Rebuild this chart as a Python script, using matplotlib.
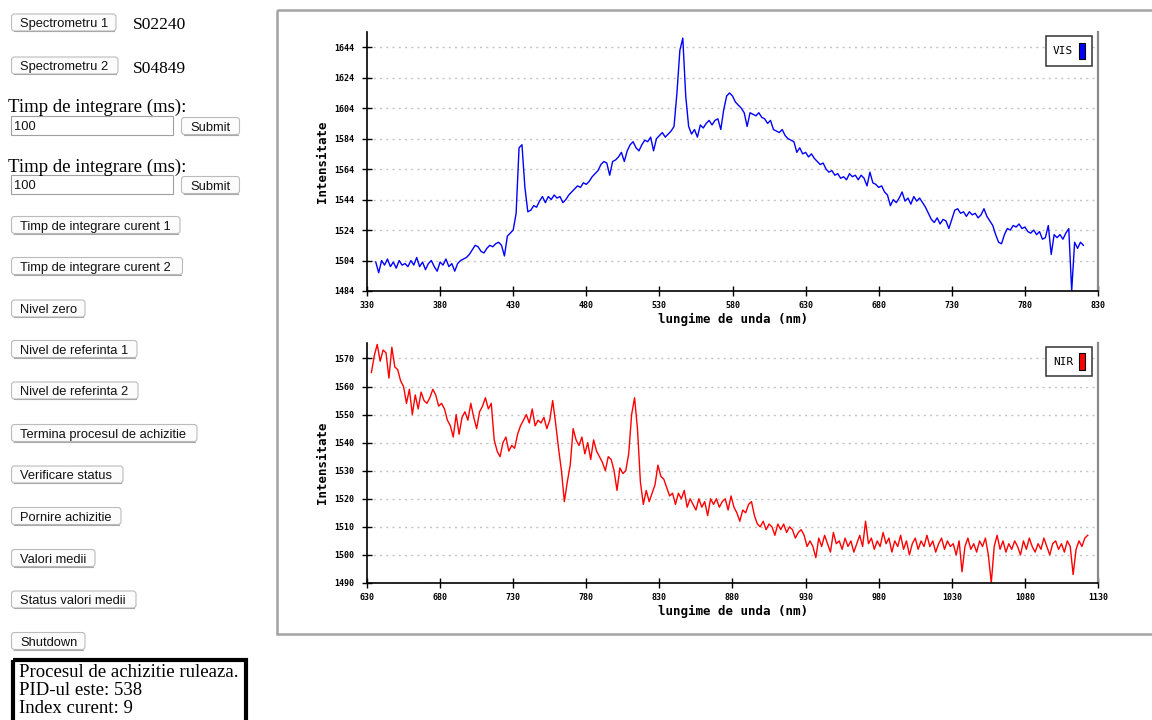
import numpy as np
import matplotlib
matplotlib.use("Agg")
import matplotlib.pyplot as plt
from matplotlib.patches import FancyBboxPatch, Rectangle, Patch

MONO  = "DejaVu Sans Mono"
SANS  = "Liberation Sans"
SERIF = "Liberation Serif"

# ---- spectra (one value every 2 nm) ----
vis_start = 336
vis_int = [
    1503, 1496, 1504, 1501, 1505, 1500, 1503, 1499, 1504, 1501,
    1502, 1500, 1504, 1501, 1506, 1500, 1503, 1498, 1502, 1504,
    1500, 1497, 1503, 1501, 1505, 1500, 1502, 1497, 1502, 1504,
    1505, 1506, 1508, 1511, 1514, 1513, 1510, 1509, 1512, 1514,
    1513, 1515, 1516, 1514, 1507, 1520, 1522, 1524, 1535, 1578,
    1580, 1552, 1536, 1537, 1540, 1539, 1543, 1546, 1542, 1546,
    1544, 1547, 1545, 1546, 1542, 1544, 1547, 1549, 1551, 1553,
    1552, 1555, 1554, 1556, 1559, 1561, 1563, 1567, 1569, 1568,
    1560, 1569, 1570, 1572, 1575, 1569, 1576, 1580, 1582, 1578,
    1576, 1580, 1583, 1582, 1585, 1576, 1584, 1586, 1588, 1585,
    1587, 1589, 1592, 1614, 1642, 1650, 1612, 1592, 1587, 1590,
    1585, 1593, 1591, 1594, 1596, 1593, 1596, 1597, 1590, 1603,
    1612, 1614, 1612, 1608, 1606, 1604, 1601, 1592, 1601, 1600,
    1599, 1601, 1598, 1597, 1594, 1596, 1590, 1589, 1588, 1590,
    1586, 1584, 1583, 1582, 1575, 1578, 1574, 1575, 1572, 1574,
    1571, 1569, 1567, 1568, 1564, 1562, 1563, 1560, 1561, 1558,
    1559, 1557, 1561, 1559, 1560, 1557, 1560, 1558, 1553, 1562,
    1555, 1554, 1552, 1553, 1549, 1547, 1540, 1544, 1542, 1545,
    1549, 1543, 1545, 1541, 1546, 1543, 1545, 1542, 1539, 1535,
    1531, 1529, 1532, 1528, 1531, 1530, 1525, 1531, 1537, 1538,
    1535, 1536, 1533, 1536, 1534, 1535, 1532, 1534, 1538, 1533,
    1530, 1527, 1521, 1516, 1515, 1521, 1525, 1524, 1527, 1526,
    1528, 1525, 1526, 1523, 1522, 1524, 1521, 1523, 1518, 1519,
    1527, 1508, 1521, 1519, 1521, 1518, 1522, 1525, 1484, 1516,
    1512, 1516, 1514,
]

nir_start = 633
nir_int = [
    1565, 1571, 1575, 1569, 1573, 1572, 1563, 1574, 1567, 1566,
    1562, 1560, 1554, 1559, 1550, 1557, 1552, 1558, 1555, 1554,
    1556, 1559, 1557, 1553, 1554, 1552, 1548, 1546, 1542, 1550,
    1543, 1549, 1551, 1548, 1554, 1549, 1545, 1551, 1553, 1556,
    1552, 1554, 1541, 1537, 1535, 1540, 1542, 1537, 1539, 1538,
    1543, 1546, 1548, 1550, 1547, 1552, 1546, 1548, 1547, 1549,
    1545, 1548, 1555, 1547, 1538, 1530, 1519, 1526, 1532, 1545,
    1541, 1539, 1542, 1536, 1540, 1534, 1541, 1537, 1535, 1533,
    1530, 1535, 1534, 1530, 1523, 1531, 1529, 1530, 1536, 1550,
    1556, 1545, 1526, 1518, 1523, 1519, 1522, 1525, 1532, 1528,
    1527, 1524, 1521, 1522, 1518, 1522, 1520, 1523, 1517, 1520,
    1518, 1516, 1520, 1517, 1519, 1514, 1520, 1518, 1520, 1517,
    1519, 1520, 1516, 1521, 1517, 1515, 1512, 1516, 1515, 1518,
    1519, 1514, 1511, 1510, 1512, 1509, 1511, 1510, 1507, 1511,
    1509, 1511, 1508, 1510, 1509, 1506, 1508, 1509, 1507, 1503,
    1505, 1503, 1499, 1506, 1503, 1507, 1504, 1501, 1508, 1504,
    1505, 1502, 1506, 1503, 1505, 1501, 1504, 1507, 1503, 1512,
    1504, 1506, 1502, 1505, 1503, 1508, 1504, 1506, 1501, 1505,
    1503, 1507, 1502, 1505, 1500, 1504, 1506, 1502, 1505, 1503,
    1507, 1503, 1505, 1501, 1504, 1506, 1502, 1505, 1503, 1504,
    1500, 1505, 1494, 1503, 1506, 1502, 1504, 1501, 1505, 1503,
    1506, 1500, 1490, 1503, 1507, 1502, 1505, 1501, 1504, 1502,
    1505, 1503, 1500, 1505, 1502, 1506, 1503, 1501, 1504, 1502,
    1506, 1503, 1500, 1504, 1505, 1502, 1504, 1501, 1505, 1503,
    1493, 1502, 1505, 1503, 1506, 1507,
]

vis_xticks = [330, 380, 430, 480, 530, 580, 630, 680, 730, 780, 830]
vis_yticks = [1484, 1504, 1524, 1544, 1564, 1584, 1604, 1624, 1644]
vis_ylim   = (1484, 1654)
nir_xticks = [630, 680, 730, 780, 830, 880, 930, 980, 1030, 1080, 1130]
nir_yticks = [1490, 1500, 1510, 1520, 1530, 1540, 1550, 1560, 1570]
nir_ylim   = (1490, 1575.5)

# ---- page content ----
serials      = ["S02240", "S04849"]
int_label    = "Timp de integrare (ms):"
int_value    = "100"
buttons      = ["Timp de integrare curent 1", "Timp de integrare curent 2",
                "Nivel zero", "Nivel de referinta 1", "Nivel de referinta 2",
                "Termina procesul de achizitie", "Verificare status",
                "Pornire achizitie", "Valori medii", "Status valori medii",
                "Shutdown"]
status_lines = ["Procesul de achizitie ruleaza.", "PID-ul este: 538",
                "Index curent: 9"]

# layout of the page (pixels)
BTN_TOPS   = [216.5, 257.5, 300, 340.5, 382, 424.5, 466, 507.5, 549.5, 591, 632.5]
BTN_RIGHTS = [180, 182.5, 85, 137, 138, 197, 123, 121, 95, 136, 85]
BTN_H = 17
BTN_FS = 9.3
SERIF_FS = 13.5


def button(ui, x0, y0, x1, text, centre=False):
    ui.add_patch(FancyBboxPatch((x0, y0), x1 - x0, BTN_H,
                                boxstyle="round,pad=0,rounding_size=3",
                                fc="#fcfcfc", ec="#bbbbbb", lw=0.8))
    ui.plot([x0 + 2, x1 - 2], [y0 + BTN_H, y0 + BTN_H], color="#a8a8a8", lw=0.8)
    ty = y0 + BTN_H / 2 + 1.8
    if centre:
        ui.text((x0 + x1) / 2, ty, text, family=SANS, fontsize=BTN_FS,
                ha="center", va="center", color="#111111")
    else:
        ui.text(x0 + 8.5, ty, text, family=SANS, fontsize=BTN_FS,
                ha="left", va="center", color="#111111")


def input_box(ui, y0):
    ui.add_patch(Rectangle((10.5, y0), 162, 19, fc="white", ec="#a0a0a0", lw=0.8))
    ui.text(14, y0 + 11.5, int_value, family=SANS, fontsize=BTN_FS, ha="left",
            va="center", color="#111111")


def draw_spectrum(ax, start, vals, colour, name, xticks, yticks, ylim, label_y):
    nm = start + 2 * np.arange(len(vals))
    ax.plot(nm, vals, color=colour, lw=1.0)
    ax.set_xlim(xticks[0], xticks[-1])
    ax.set_ylim(*ylim)
    ax.set_xticks(xticks)
    ax.set_yticks(yticks)
    ax.tick_params(axis="both", direction="inout", length=7, width=1,
                   labelsize=6, colors="black")
    ax.tick_params(axis="y", pad=5.5)
    ax.tick_params(axis="x", pad=4)
    for lab in ax.get_xticklabels() + ax.get_yticklabels():
        lab.set_family(MONO)
        lab.set_weight("bold")
    ax.grid(axis="y", color="#c4c4c4", ls=(0, (1.5, 3)), lw=1)
    ax.set_axisbelow(True)
    ax.spines["top"].set_visible(False)
    ax.spines["right"].set_color("#8a8a8a")
    ax.spines["right"].set_linewidth(1.6)
    ax.spines["left"].set_linewidth(1.2)
    ax.spines["bottom"].set_linewidth(1.2)

    ax.set_xlabel("lungime de unda (nm)", family=MONO, fontweight="bold", fontsize=9)
    ax.xaxis.set_label_coords(0.5, label_y)
    ax.set_ylabel("Intensitate", family=MONO, fontweight="bold", fontsize=9)
    ax.yaxis.set_label_coords(-0.052, 0.5)

    leg = ax.legend(handles=[Patch(fc=colour, ec="black", lw=0.8)], labels=[name],
                    loc="upper right", bbox_to_anchor=(1 - 6 / 731, 1 - 4 / 259),
                    markerfirst=False, handlelength=0.6, handleheight=1.9,
                    handletextpad=0.5, borderpad=0.6, borderaxespad=0,
                    fancybox=False, framealpha=1, edgecolor="#333333",
                    prop={"family": MONO, "size": 8})
    leg.get_frame().set_linewidth(1.1)


fig = plt.figure(figsize=(11.52, 7.2), dpi=100)

# page overlay in pixel coordinates
ui = fig.add_axes([0, 0, 1, 1], zorder=0)
ui.set_xlim(0, 1152)
ui.set_ylim(720, 0)
ui.axis("off")

button(ui, 11.5, 14, 116, "Spectrometru 1")
button(ui, 11.5, 57, 118, "Spectrometru 2")
ui.text(133, 29.3, serials[0], family=SERIF, fontsize=12.5, va="baseline")
ui.text(133, 72.7, serials[1], family=SERIF, fontsize=12.5, va="baseline")

for base, box_y, sub_y in [(111.7, 115.5, 117.5), (171.7, 174.5, 176.5)]:
    ui.text(8, base, int_label, family=SERIF, fontsize=SERIF_FS, va="baseline")
    input_box(ui, box_y)
    button(ui, 181.5, sub_y, 239.5, "Submit", centre=True)

for text, top, right in zip(buttons, BTN_TOPS, BTN_RIGHTS):
    button(ui, 11.5, top, right, text)

ui.add_patch(Rectangle((13, 659.5), 233, 80, fill=False, ec="black", lw=3))
for i, line in enumerate(status_lines):
    ui.text(19, 677 + i * 18.2, line, family=SERIF, fontsize=SERIF_FS, va="baseline")

# chart panel border
ui.add_patch(Rectangle((276.5, 9.5), 900, 624.5, fill=False, ec="#a3a3a3", lw=1.8))

ax_vis = fig.add_axes([367 / 1152, 1 - 291 / 720, 731 / 1152, 259 / 720], zorder=2)
ax_nir = fig.add_axes([367 / 1152, 1 - 583 / 720, 731 / 1152, 240 / 720], zorder=2)

draw_spectrum(ax_vis, vis_start, vis_int, "#0000ff", "VIS",
              vis_xticks, vis_yticks, vis_ylim, -0.085)
draw_spectrum(ax_nir, nir_start, nir_int, "#ff0000", "NIR",
              nir_xticks, nir_yticks, nir_ylim, -0.09)

fig.savefig("out.png", dpi=100)
print("Saved -> out.png")
